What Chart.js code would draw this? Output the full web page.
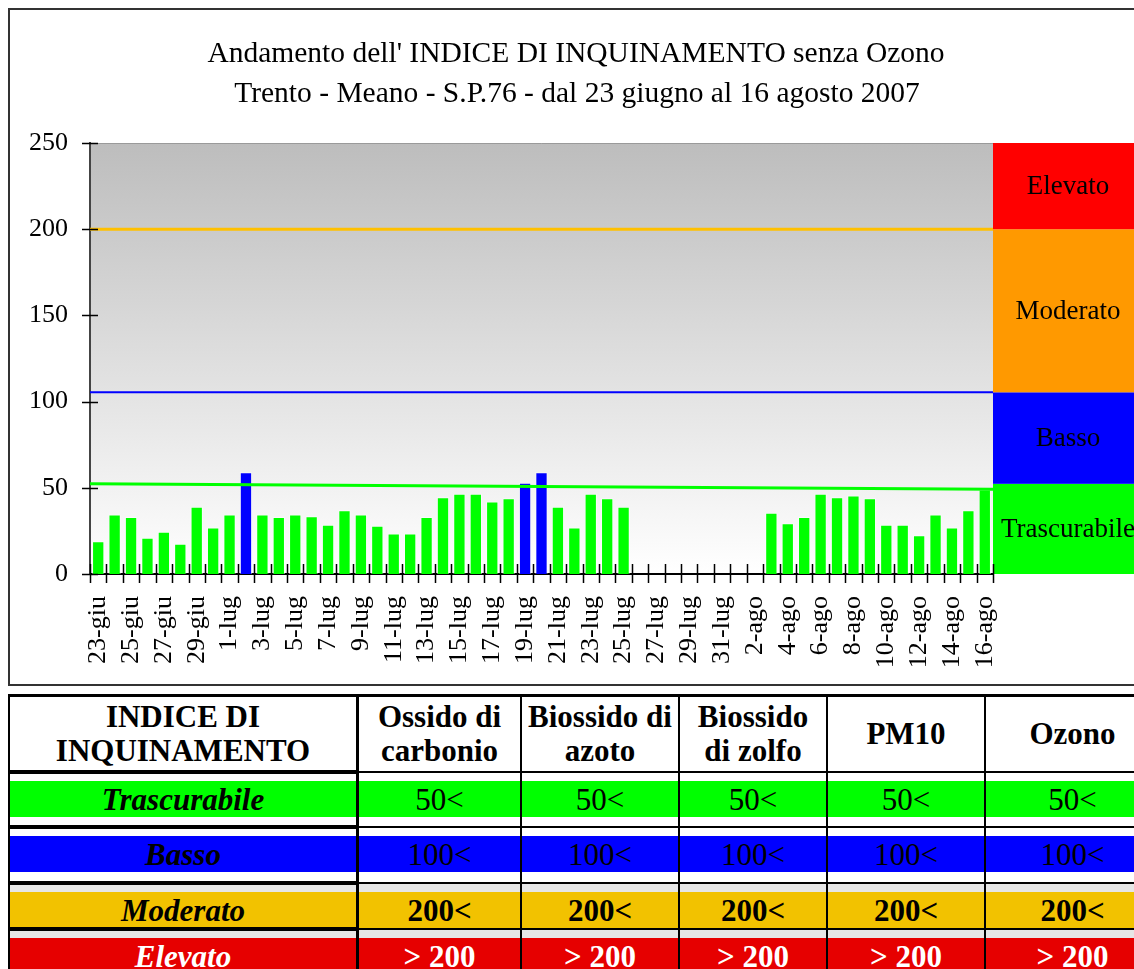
<!DOCTYPE html>
<html>
<head>
<meta charset="utf-8">
<title>Indice di inquinamento - Trento Meano</title>
<script src="https://cdn.jsdelivr.net/npm/chart.js@4.4.1/dist/chart.umd.min.js"></script>
<style>
  html, body { margin: 0; padding: 0; background: #fff; width: 1134px; height: 969px; overflow: hidden; }
  #wrap { position: absolute; left: 0; top: 0; width: 1134px; height: 690px; }
  #legend { position: absolute; left: 0; top: 0; font-family: "Liberation Serif", "Times New Roman", serif; color: #000; }
  .cell { position: absolute; box-sizing: border-box; border: 1px solid #000; background: #fff; overflow: hidden; }
  .cell.first { border-width: 2px; }
  .cell.head { border-top-width: 3px; display: flex; align-items: center; justify-content: center;
               text-align: center; font-weight: bold; font-size: 31px; line-height: 34px; }
  .cell.grey { background: #e6e6e6; }
  .band { position: absolute; left: 0; right: 0; height: 36px; line-height: 37px; text-align: center;
          font-size: 31px; white-space: nowrap; }
  .band.level { font-weight: bold; font-style: italic; }
</style>
</head>
<body>
<div id="wrap"><canvas id="chart" width="1134" height="690"></canvas></div>
<div id="legend"></div>
<script>
const titleLines = [
  "Andamento dell' INDICE DI INQUINAMENTO senza Ozono",
  "Trento - Meano - S.P.76 - dal 23 giugno al 16 agosto 2007"
];

const dates = [
  "23-giu", "24-giu", "25-giu", "26-giu", "27-giu", "28-giu", "29-giu", "30-giu",
  "1-lug", "2-lug", "3-lug", "4-lug", "5-lug", "6-lug", "7-lug", "8-lug", "9-lug", "10-lug",
  "11-lug", "12-lug", "13-lug", "14-lug", "15-lug", "16-lug", "17-lug", "18-lug", "19-lug", "20-lug",
  "21-lug", "22-lug", "23-lug", "24-lug", "25-lug", "26-lug", "27-lug", "28-lug", "29-lug", "30-lug",
  "31-lug", "1-ago", "2-ago", "3-ago", "4-ago", "5-ago", "6-ago", "7-ago", "8-ago", "9-ago",
  "10-ago", "11-ago", "12-ago", "13-ago", "14-ago", "15-ago", "16-ago"
];

const indexValues = [
  19, 34.5, 33, 21, 24.5, 17.5, 39, 27,
  34.5, 59, 34.5, 33, 34.5, 33.5, 28.5, 37, 34.5, 28,
  23.5, 23.5, 33, 44.5, 46.5, 46.5, 42, 44, 53, 59,
  39, 27, 46.5, 44, 39, null, null, null, null, null,
  null, null, null, 35.5, 29.5, 33, 46.5, 44.5, 45.5, 44,
  28.5, 28.5, 22.5, 34.5, 27, 37, 49
];

// fasce dell'indice (asse y) e loro colori nel grafico
const bandNames = ["Trascurabile", "Basso", "Moderato", "Elevato"];
const bandLimits = [0, 52.3, 105.4, 200, 250];
const bandColors = ["#00ff00", "#0000ff", "#ff9900", "#ff0000"];

// linee orizzontali: soglie e retta di tendenza (inizio, fine)
const thresholdValues = [105.4, 200];
const thresholdColors = ["#0000ff", "#ffc000"];
const trendLine = [52.3, 49.2];

// tabella sotto il grafico
const tableHeaders = ["INDICE DI<br>INQUINAMENTO", "Ossido di<br>carbonio", "Biossido di<br>azoto",
                      "Biossido<br>di zolfo", "PM10", "Ozono"];
const tableLevels = ["Trascurabile", "Basso", "Moderato", "Elevato"];
const tableLimits = ["50<", "100<", "200<", "> 200"];
const tableColors = ["#00ff00", "#0000ff", "#f2c200", "#e60000"];

const serif = '"Liberation Serif", "Times New Roman", serif';
Chart.defaults.font.family = serif;
Chart.defaults.color = "#000";

const decorPlugin = {
  id: "decor",
  beforeDraw(chart) {
    const { ctx, chartArea: a, scales: { y } } = chart;
    ctx.save();
    // cornice
    ctx.strokeStyle = "#333";
    ctx.lineWidth = 2;
    ctx.strokeRect(9, 9, 1300, 676);
    // titolo
    ctx.fillStyle = "#000";
    ctx.font = "29.5px " + serif;
    ctx.textAlign = "center";
    ctx.textBaseline = "alphabetic";
    ctx.fillText(titleLines[0], 576, 62);
    ctx.fillText(titleLines[1], 577, 102);
    // sfondo area del grafico
    const g = ctx.createLinearGradient(0, a.top, 0, a.bottom);
    g.addColorStop(0, "#bdbdbd");
    g.addColorStop(1, "#ffffff");
    ctx.fillStyle = g;
    ctx.fillRect(a.left, a.top, a.right - a.left, a.bottom - a.top);
    ctx.strokeStyle = "#9a9a9a";
    ctx.lineWidth = 1;
    ctx.beginPath();
    ctx.moveTo(a.left, a.top + 0.5);
    ctx.lineTo(a.right, a.top + 0.5);
    ctx.stroke();
    // fasce colorate a destra
    ctx.font = "27px " + serif;
    ctx.textBaseline = "middle";
    for (let i = 0; i < bandNames.length; i++) {
      const yTop = y.getPixelForValue(bandLimits[i + 1]);
      const yBot = y.getPixelForValue(bandLimits[i]);
      ctx.fillStyle = bandColors[i];
      ctx.fillRect(a.right, yTop, chart.width - a.right, yBot - yTop);
      ctx.fillStyle = "#000";
      ctx.fillText(bandNames[i], a.right + 75, (yTop + yBot) / 2 + 1);
    }
    ctx.restore();
  },
  afterDatasetsDraw(chart) {
    const { ctx, chartArea: a, scales: { x, y } } = chart;
    ctx.save();
    ctx.lineCap = "butt";
    thresholdValues.forEach((v, i) => {
      const py = y.getPixelForValue(v);
      ctx.strokeStyle = thresholdColors[i];
      ctx.lineWidth = i === 0 ? 2 : 3;
      ctx.beginPath();
      ctx.moveTo(a.left, py);
      ctx.lineTo(a.right, py);
      ctx.stroke();
    });
    ctx.strokeStyle = "#00ff00";
    ctx.lineWidth = 3;
    ctx.beginPath();
    ctx.moveTo(a.left, y.getPixelForValue(trendLine[0]));
    ctx.lineTo(a.right, y.getPixelForValue(trendLine[1]));
    ctx.stroke();
    // tacche degli assi
    ctx.strokeStyle = "#000";
    ctx.lineWidth = 1.5;
    const half = (x.getPixelForValue(1) - x.getPixelForValue(0)) / 2;
    ctx.beginPath();
    for (let i = 0; i <= dates.length; i++) {
      const px = Math.round(x.getPixelForValue(i) - half) + 0.5;
      ctx.moveTo(px, a.bottom - 10);
      ctx.lineTo(px, a.bottom + 9);
    }
    y.ticks.forEach(t => {
      const py = Math.round(y.getPixelForValue(t.value)) + 0.5;
      ctx.moveTo(a.left - 8, py);
      ctx.lineTo(a.left + 8, py);
    });
    ctx.stroke();
    ctx.restore();
  }
};

new Chart(document.getElementById("chart"), {
  type: "bar",
  data: {
    labels: dates,
    datasets: [{
      data: indexValues,
      backgroundColor: c => (c.raw > bandLimits[1] ? bandColors[1] : bandColors[0]),
      borderColor: "rgba(255,255,255,0.55)",
      borderWidth: 1,
      barPercentage: 0.75,
      categoryPercentage: 1
    }]
  },
  options: {
    responsive: false,
    animation: false,
    layout: { padding: { top: 143, right: 141, bottom: 0, left: 0 } },
    plugins: { legend: { display: false }, tooltip: { enabled: false } },
    scales: {
      x: {
        grid: { display: false },
        border: { color: "#000", width: 2 },
        ticks: {
          autoSkip: false,
          minRotation: 90,
          maxRotation: 90,
          padding: 14,
          font: { size: 26 },
          callback: (v, i) => (i % 2 === 0 ? dates[i] : "")
        },
        afterFit: s => { s.height = 116; }
      },
      y: {
        min: 0,
        max: 250,
        grid: { display: false, drawTicks: false },
        border: { color: "#444", width: 2 },
        ticks: { stepSize: 50, padding: 22, font: { size: 26 } },
        afterFit: s => { s.width = 90; }
      }
    }
  },
  plugins: [decorPlugin]
});

// tabella delle soglie
const colEdges = [8, 358, 521, 679, 827, 985, 1160];
const rowEdges = [694, 772, 827, 883, 929, 1000];
const legend = document.getElementById("legend");

function addCell(r, c) {
  const d = document.createElement("div");
  d.className = "cell" + (c === 0 ? " first" : "");
  d.style.left = colEdges[c] + "px";
  d.style.top = rowEdges[r] + "px";
  d.style.width = (colEdges[c + 1] - colEdges[c]) + "px";
  d.style.height = (rowEdges[r + 1] - rowEdges[r]) + "px";
  legend.appendChild(d);
  return d;
}

tableHeaders.forEach((h, c) => {
  const d = addCell(0, c);
  d.classList.add("head");
  d.innerHTML = h;
});

tableLevels.forEach((lvl, i) => {
  for (let c = 0; c < tableHeaders.length; c++) {
    const d = addCell(i + 1, c);
    if (i >= 2) d.classList.add("grey");
    const b = document.createElement("div");
    b.className = "band" + (c === 0 ? " level" : "");
    b.style.top = (c === 0 ? 7 : 8) + "px";
    b.style.background = tableColors[i];
    if (i >= 2) b.style.fontWeight = "bold";
    if (i === 3) b.style.color = "#fff";
    b.textContent = c === 0 ? lvl : tableLimits[i];
    d.appendChild(b);
  }
});
</script>
</body>
</html>
